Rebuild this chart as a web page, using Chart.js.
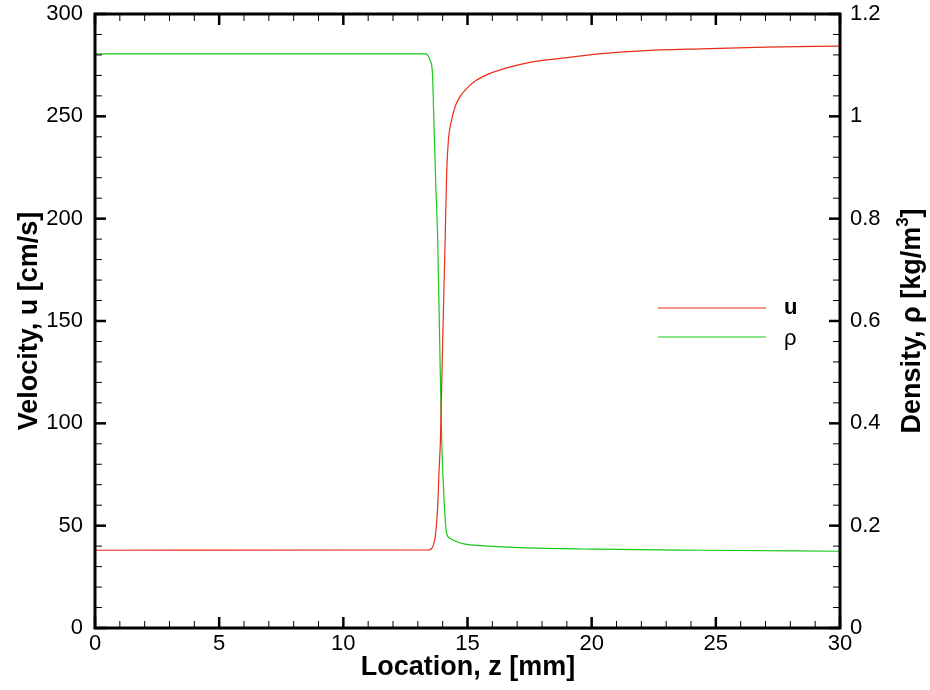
<!DOCTYPE html>
<html>
<head>
<meta charset="utf-8">
<script src="https://cdn.jsdelivr.net/npm/chart.js@4"></script>
<style>
  body { margin: 0; background: #fff; }
</style>
</head>
<body>
<canvas id="myChart" width="930" height="690"></canvas>
<script>
// velocity u [cm/s] along z [mm]
var uZ = [0, 13.42, 13.56, 13.65, 13.72, 13.8, 13.85, 13.91, 14.0, 14.1, 14.16, 14.23, 14.33, 14.5, 14.7, 14.97, 15.37, 15.91, 16.58, 17.52, 18.73, 20.3, 22, 24.4, 27, 30]
var uVal = [38, 38.1, 38.9, 41.5, 46.4, 59.3, 75.7, 91.8, 140, 189.5, 222, 238.4, 246.6, 254.7, 259.6, 263.7, 267.7, 271, 273.7, 276.4, 278.3, 280.5, 282, 283, 283.8, 284.3]

// density rho [kg/m3] along z [mm]
var rhoZ = [0, 13.3, 13.42, 13.49, 13.59, 13.63, 13.72, 13.8, 13.88, 13.96, 14.07, 14.16, 14.3, 14.6, 14.9, 15.5, 17.1, 20.3, 24.4, 30]
var rhoVal = [1.122, 1.122, 1.118, 1.110, 1.084, 1.019, 0.87, 0.758, 0.56, 0.367, 0.237, 0.185, 0.175, 0.168, 0.164, 0.161, 0.157, 0.154, 0.152, 0.150]

var xTicks = [0, 5, 10, 15, 20, 25, 30]
var uTicks = [0, 50, 100, 150, 200, 250, 300]
var rhoTicks = [0, 0.2, 0.4, 0.6, 0.8, 1, 1.2]

var red = 'rgb(232,45,25)'
var green = 'rgb(25,200,25)'
var font = '"Liberation Sans", Arial, Helvetica, sans-serif'

var pts = (xs, ys) => xs.map((x, i) => ({ x: x, y: ys[i] }))

var frame = {
  id: 'frame',
  afterDraw: chart => {
    var c = chart.ctx
    var a = chart.chartArea
    var sx = chart.scales.x, sy = chart.scales.y, sr = chart.scales.y1
    c.save()
    c.strokeStyle = '#000'
    c.lineWidth = 3
    c.strokeRect(a.left, a.top, a.right - a.left, a.bottom - a.top)

    // inward ticks on all four sides
    var tick = (x1, y1, x2, y2, w) => {
      c.lineWidth = w
      c.beginPath(); c.moveTo(x1, y1); c.lineTo(x2, y2); c.stroke()
    }
    for (var i = 0; i <= 30; i++) {
      var px = sx.getPixelForValue(i)
      var major = i % 5 === 0
      var len = major ? 11 : 7
      var w = major ? 2.5 : 1
      tick(px, a.bottom, px, a.bottom - len, w)
      tick(px, a.top, px, a.top + len, w)
    }
    for (var v = 0; v <= 300; v += 10) {
      var py = sy.getPixelForValue(v)
      var mj = v % 50 === 0
      tick(a.left, py, a.left + (mj ? 11 : 7), py, mj ? 2.5 : 1)
    }
    for (var k = 0; k <= 30; k++) {
      var pr = sr.getPixelForValue(k * 0.04)
      var mr = k % 5 === 0
      tick(a.right, pr, a.right - (mr ? 11 : 7), pr, mr ? 2.5 : 1)
    }

    // axis titles
    c.fillStyle = '#000'
    c.font = 'bold 27px ' + font
    c.textAlign = 'center'
    c.textBaseline = 'middle'
    c.fillText('Location, z [mm]', 468, 668)

    c.save()
    c.translate(30, 321)
    c.rotate(-Math.PI / 2)
    c.fillText('Velocity, u [cm/s]', 0, 0)
    c.restore()

    c.save()
    c.translate(913, 321)
    c.rotate(-Math.PI / 2)
    var p1 = 'Density, \u03c1 [kg/m', p2 = '3', p3 = ']'
    c.font = 'bold 27px ' + font
    var w1 = c.measureText(p1).width, w3 = c.measureText(p3).width
    c.font = 'bold 17px ' + font
    var w2 = c.measureText(p2).width
    var x0 = -(w1 + w2 + w3) / 2
    c.textAlign = 'left'
    c.font = 'bold 27px ' + font
    c.fillText(p1, x0, 0)
    c.font = 'bold 17px ' + font
    c.fillText(p2, x0 + w1, -10)
    c.font = 'bold 27px ' + font
    c.fillText(p3, x0 + w1 + w2, 0)
    c.restore()

    // legend
    c.lineWidth = 1.2
    c.strokeStyle = red
    c.beginPath(); c.moveTo(658, 308); c.lineTo(766, 308); c.stroke()
    c.strokeStyle = green
    c.beginPath(); c.moveTo(658, 337); c.lineTo(766, 337); c.stroke()
    c.textAlign = 'left'
    c.font = 'bold 22px ' + font
    c.fillText('u', 784, 308)
    c.font = '22px ' + font
    c.fillText('\u03c1', 784, 339)
    c.restore()
  }
}

var noPad = s => { s.paddingTop = 0; s.paddingBottom = 0; s.paddingLeft = 0; s.paddingRight = 0 }

var ctx = document.getElementById('myChart')
var myChart = new Chart(ctx, {
  type: 'line',
  data: {
    datasets: [
      {
        label: 'u',
        data: pts(uZ, uVal),
        borderColor: red,
        borderWidth: 1.2,
        pointRadius: 0,
        cubicInterpolationMode: 'monotone',
        yAxisID: 'y'
      },
      {
        label: '\u03c1',
        data: pts(rhoZ, rhoVal),
        borderColor: green,
        borderWidth: 1.2,
        pointRadius: 0,
        cubicInterpolationMode: 'monotone',
        yAxisID: 'y1'
      }
    ]
  },
  options: {
    responsive: false,
    animation: false,
    layout: { padding: { top: 14, left: 0, right: 0, bottom: 0 } },
    plugins: { legend: { display: false }, tooltip: { enabled: false } },
    scales: {
      x: {
        type: 'linear',
        min: 0,
        max: 30,
        afterBuildTicks: s => { s.ticks = xTicks.map(v => ({ value: v })) },
        afterFit: s => { s.height = 62; noPad(s) },
        grid: { display: false, drawTicks: false },
        border: { display: false },
        ticks: { color: '#000', font: { family: font, size: 22 }, padding: 3, maxRotation: 0 }
      },
      y: {
        position: 'left',
        min: 0,
        max: 300,
        afterBuildTicks: s => { s.ticks = uTicks.map(v => ({ value: v })) },
        afterFit: s => { s.width = 95; noPad(s) },
        grid: { display: false, drawTicks: false },
        border: { display: false },
        ticks: { color: '#000', font: { family: font, size: 22 }, padding: 12 }
      },
      y1: {
        position: 'right',
        min: 0,
        max: 1.2,
        afterBuildTicks: s => { s.ticks = rhoTicks.map(v => ({ value: v })) },
        afterFit: s => { s.width = 90; noPad(s) },
        grid: { display: false, drawTicks: false },
        border: { display: false },
        ticks: {
          color: '#000',
          font: { family: font, size: 22 },
          padding: 10,
          callback: v => String(+v.toFixed(2))
        }
      }
    }
  },
  plugins: [frame]
})
</script>
</body>
</html>
